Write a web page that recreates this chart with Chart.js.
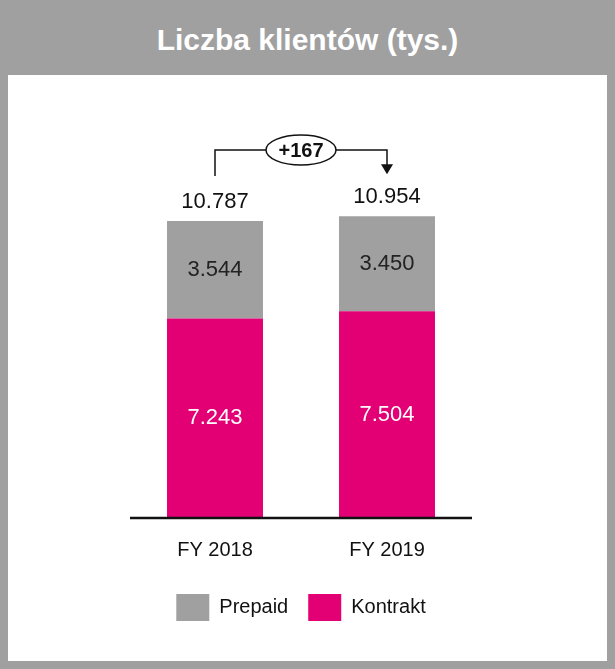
<!DOCTYPE html>
<html><head><meta charset="utf-8">
<script src="https://cdn.jsdelivr.net/npm/chart.js@4"></script>
<style>
html,body{margin:0;padding:0;background:#a0a0a0;width:615px;height:669px;overflow:hidden;font-family:"Liberation Sans",Arial,sans-serif}
#panel{position:absolute;left:8px;top:75px;width:599px;height:586px;background:#fff}
#title{position:absolute;left:0;top:0;width:615px;height:75px;line-height:80px;text-align:center;color:#fff;font-weight:bold;font-size:30px}
#wrap{position:absolute;left:0;top:0;width:615px;height:669px}
</style></head><body>
<div id="panel"></div>
<div id="title">Liczba klientów (tys.)</div>
<div id="wrap"><canvas id="c" width="615" height="669"></canvas></div>
<script>
const categories=["FY 2018","FY 2019"];
const kontrakt=[7243,7504];
const prepaid=[3544,3450];
const totals=[10787,10954];
const diffLabel="+167";
const fmt=v=>{const s=String(v);return s.length>3?s.slice(0,-3)+"."+s.slice(-3):s;};
const overlay={id:'overlay',afterDatasetsDraw(ch){
 const ctx=ch.ctx,x=ch.scales.x,y=ch.scales.y;
 ctx.save();
 ctx.font='22px "Liberation Sans",Arial';ctx.textAlign='center';ctx.textBaseline='middle';
 ch.data.datasets.forEach((ds,di)=>{ch.getDatasetMeta(di).data.forEach((b,i)=>{
   ctx.fillStyle=di===0?'#fff':'#222';
   ctx.fillText(fmt(ds.data[i]),b.x,(b.y+b.base)/2);});});
 ctx.fillStyle='#111';
 const tops=totals.map((t,i)=>y.getPixelForValue(t));
 const xs=categories.map((c,i)=>x.getPixelForValue(i));
 totals.forEach((t,i)=>ctx.fillText(fmt(t),xs[i],tops[i]-19));
 // baseline
 ctx.strokeStyle='#111';ctx.lineWidth=2.5;ctx.beginPath();
 ctx.moveTo(x.left+1,y.getPixelForValue(0));ctx.lineTo(x.right-1,y.getPixelForValue(0));ctx.stroke();
 // bracket
 const hy=150;ctx.lineWidth=1.5;ctx.beginPath();
 ctx.moveTo(xs[0],tops[0]-45);ctx.lineTo(xs[0],hy);ctx.lineTo(xs[1],hy);ctx.lineTo(xs[1],tops[1]-50);ctx.stroke();
 ctx.beginPath();ctx.moveTo(xs[1]-6,tops[1]-52);ctx.lineTo(xs[1]+6,tops[1]-52);ctx.lineTo(xs[1],tops[1]-42);ctx.closePath();ctx.fill();
 const cx=(xs[0]+xs[1])/2;
 ctx.fillStyle='#fff';ctx.beginPath();ctx.ellipse(cx,hy,35,15,0,0,Math.PI*2);ctx.fill();ctx.stroke();
 ctx.fillStyle='#111';ctx.font='bold 20px "Liberation Sans",Arial';ctx.fillText(diffLabel,cx,hy+1);
 ctx.restore();}};
new Chart(document.getElementById('c'),{type:'bar',
 data:{labels:categories,datasets:[
  {label:'Kontrakt',data:kontrakt,backgroundColor:'#e20074'},
  {label:'Prepaid',data:prepaid,backgroundColor:'#a0a0a0'}]},
 options:{responsive:false,animation:false,
  layout:{padding:{left:129,right:142,top:160,bottom:38}},
  datasets:{bar:{categoryPercentage:1,barPercentage:0.558}},
  scales:{x:{stacked:true,grid:{display:false},border:{display:false},ticks:{color:'#111',font:{size:20,family:'"Liberation Sans",Arial'},padding:12}},
   y:{stacked:true,display:false,min:0,max:13000}},
  plugins:{tooltip:{enabled:false},
   legend:{position:'bottom',reverse:true,labels:{boxWidth:33,boxHeight:27,padding:20,color:'#111',font:{size:20,family:'"Liberation Sans",Arial'}}}}},
 plugins:[overlay]});
</script></body></html>
